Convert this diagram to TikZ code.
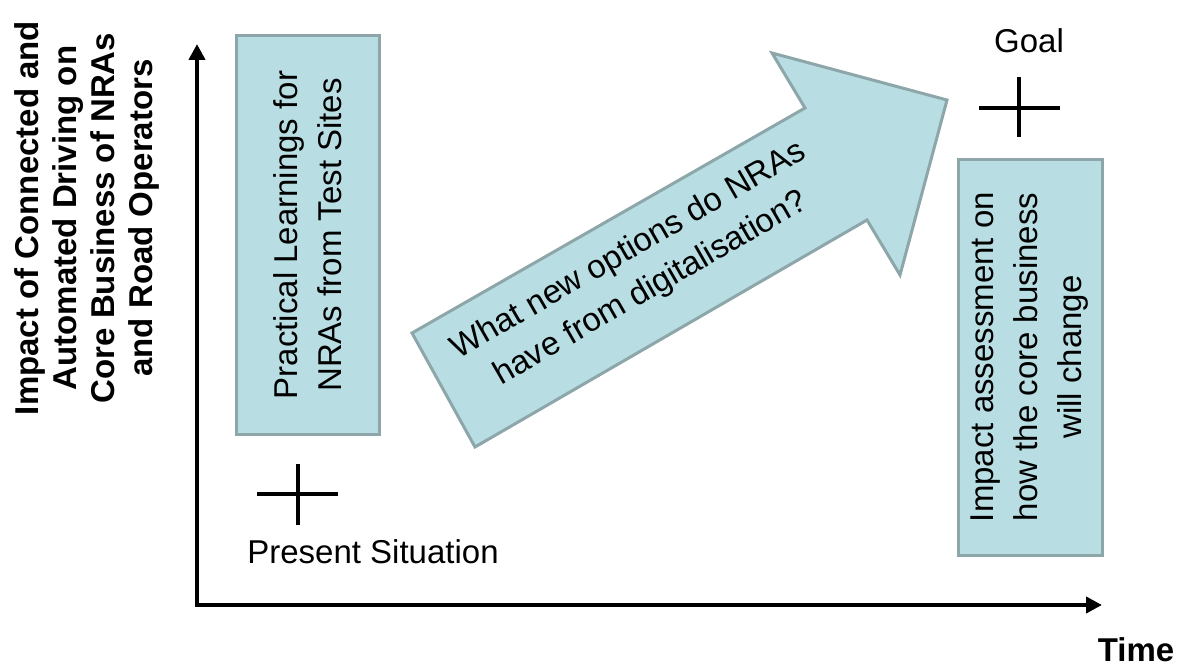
\documentclass[tikz,border=0pt]{standalone}
\usepackage{fontspec}
\setmainfont{Liberation Sans}
\usetikzlibrary{arrows.meta}
\definecolor{boxfill}{RGB}{184,222,227}
\definecolor{boxline}{RGB}{140,166,169}
\begin{document}
\begin{tikzpicture}[x=1pt,y=-1pt,
  panel/.style={draw=boxline, fill=boxfill, line width=3pt, inner sep=0pt},
  axisline/.style={line width=4pt, -{Triangle[length=16pt,width=16pt]}},
  crossbar/.style={line width=4pt},
  txt/.style={font=\fontsize{33}{44}\selectfont, align=center, inner sep=0pt},
  bold/.style={font=\fontsize{33}{38}\selectfont\bfseries, align=center, inner sep=0pt}]
\useasboundingbox (0,0) rectangle (1183,666);

% axes
\coordinate (origin) at (197,605);
\coordinate (ytip) at (197,44);
\coordinate (xtip) at (1102,605);
\draw[axisline] (origin) -- (ytip);
\draw[axisline] ([xshift=-2pt]origin) -- (xtip);

% axis labels
\node[bold, rotate=90] (ylabel) at (87,218) {Impact of Connected and\\Automated Driving on\\Core Business of NRAs\\and Road Operators};
\node[bold, anchor=base] (xlabel) at (1136,661) {Time};

% left panel
\node[panel, minimum width=143pt, minimum height=398pt] (learn) at (307.5,235) {};
\node[txt, rotate=90] (learntext) at (learn.center) {Practical Learnings for\\NRAs from Test Sites};

% right panel
\node[panel, minimum width=144pt, minimum height=396pt] (impact) at (1030,357) {};
\node[txt, rotate=90] (impacttext) at (impact.center) {Impact assessment on\\how the core business\\will change};

% big arrow
\draw[draw=boxline, fill=boxfill, line width=3pt, line join=miter]
  (412,333) -- (475,447) -- (867,220) -- (900,275) -- (947,100) -- (772,53) -- (805,108) -- cycle;
\node[txt, rotate=30] (question) at (640,270) {What new options do NRAs\\have from digitalisation?};

% present situation marker
\draw[crossbar] (257,494) -- (338,494);
\draw[crossbar] (298,464) -- (298,525);
\node[txt, anchor=base] (present) at (373,563) {Present Situation};

% goal marker
\draw[crossbar] (979,108) -- (1060,108);
\draw[crossbar] (1019,77) -- (1019,137);
\node[txt, anchor=base] (goal) at (1029,53) {Goal};
\end{tikzpicture}
\end{document}
